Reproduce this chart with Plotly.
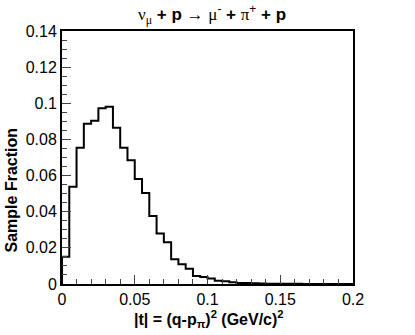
import plotly.graph_objects as go

# |t| histogram, bin width 0.005 GeV^2 from 0 to 0.2
bin_edges = [round(i * 0.005, 3) for i in range(41)]
fraction = [0.0151, 0.0538, 0.0754, 0.0887, 0.0904, 0.0972, 0.0981, 0.0865,
            0.0754, 0.0685, 0.0581, 0.0504, 0.0376, 0.0279, 0.0231, 0.0137,
            0.0109, 0.0085, 0.0044, 0.0039, 0.0030, 0.0018, 0.0015, 0.0009,
            0.0006, 0.0005, 0.0004, 0.0003, 0.0002, 0.0002, 0.0001, 0.0001,
            0.0001, 0.0, 0.0, 0.0, 0.0, 0.0, 0.0, 0.0]

x_ticks = [0, 0.05, 0.1, 0.15, 0.2]
x_labels = ["0", "0.05", "0.1", "0.15", "0.2"]
y_ticks = [0, 0.02, 0.04, 0.06, 0.08, 0.1, 0.12, 0.14]
y_labels = ["0", "0.02", "0.04", "0.06", "0.08", "0.1", "0.12", "0.14"]

# step outline: start at baseline, end at last edge
xs = [0] + bin_edges
ys = [0] + fraction + [fraction[-1]]

fig = go.Figure()
fig.add_trace(go.Scatter(x=xs, y=ys, mode="lines", line_shape="hv",
                         line=dict(color="black", width=2), showlegend=False))

FONT = "Liberation Sans, Arial, sans-serif"
GREEK = "Liberation Serif, serif"

axis_common = dict(showgrid=False, zeroline=False, showline=True, mirror=True,
                   linecolor="black", linewidth=2, ticks="inside",
                   tickcolor="#444", tickwidth=1, ticklen=9, automargin=False,
                   tickfont=dict(family=FONT, size=16, color="black"))

fig.update_xaxes(range=[0, 0.2], tickvals=x_ticks, ticktext=x_labels,
                 minor=dict(dtick=0.01, ticks="inside", ticklen=5,
                            tickcolor="#444", tickwidth=1),
                 **axis_common)
fig.update_yaxes(range=[0, 0.14], tickvals=y_ticks, ticktext=y_labels,
                 minor=dict(dtick=0.005, ticks="inside", ticklen=5,
                            tickcolor="#444", tickwidth=1),
                 **axis_common)

g = lambda s: f"<span style='font-family:{GREEK};font-weight:normal'>{s}</span>"
title = (f"{g('ν')}<sub>{g('μ')}</sub><b> + p </b>{g('→')} "
         f"{g('μ')}<sup>-</sup><b> + </b>{g('π')}<sup>+</sup><b> + p</b>")

fig.add_annotation(text=title, xref="paper", yref="paper", x=0.516, y=1.067,
                   xanchor="center", yanchor="middle", showarrow=False,
                   font=dict(family=FONT, size=17, color="black"))
fig.add_annotation(text="<b>|t| = (q-p<sub>π</sub>)<sup>2</sup> (GeV/c)<sup>2</sup></b>",
                   xref="paper", yref="paper", x=0.505, y=-0.138,
                   xanchor="center", yanchor="middle", showarrow=False,
                   font=dict(family=FONT, size=16, color="black"))
fig.add_annotation(text="<b>Sample Fraction</b>", textangle=-90,
                   xref="paper", yref="paper", x=-0.175, y=0.37,
                   xanchor="center", yanchor="middle", showarrow=False,
                   font=dict(family=FONT, size=16, color="black"))

fig.update_layout(width=415, height=335, margin=dict(l=62, r=62, t=31, b=51),
                  paper_bgcolor="white", plot_bgcolor="white")

# drop the page's default body margin so the figure sits at the window corner
fig.write_html("out.html", config={"displayModeBar": False},
               post_script="document.body.style.margin='0';")
